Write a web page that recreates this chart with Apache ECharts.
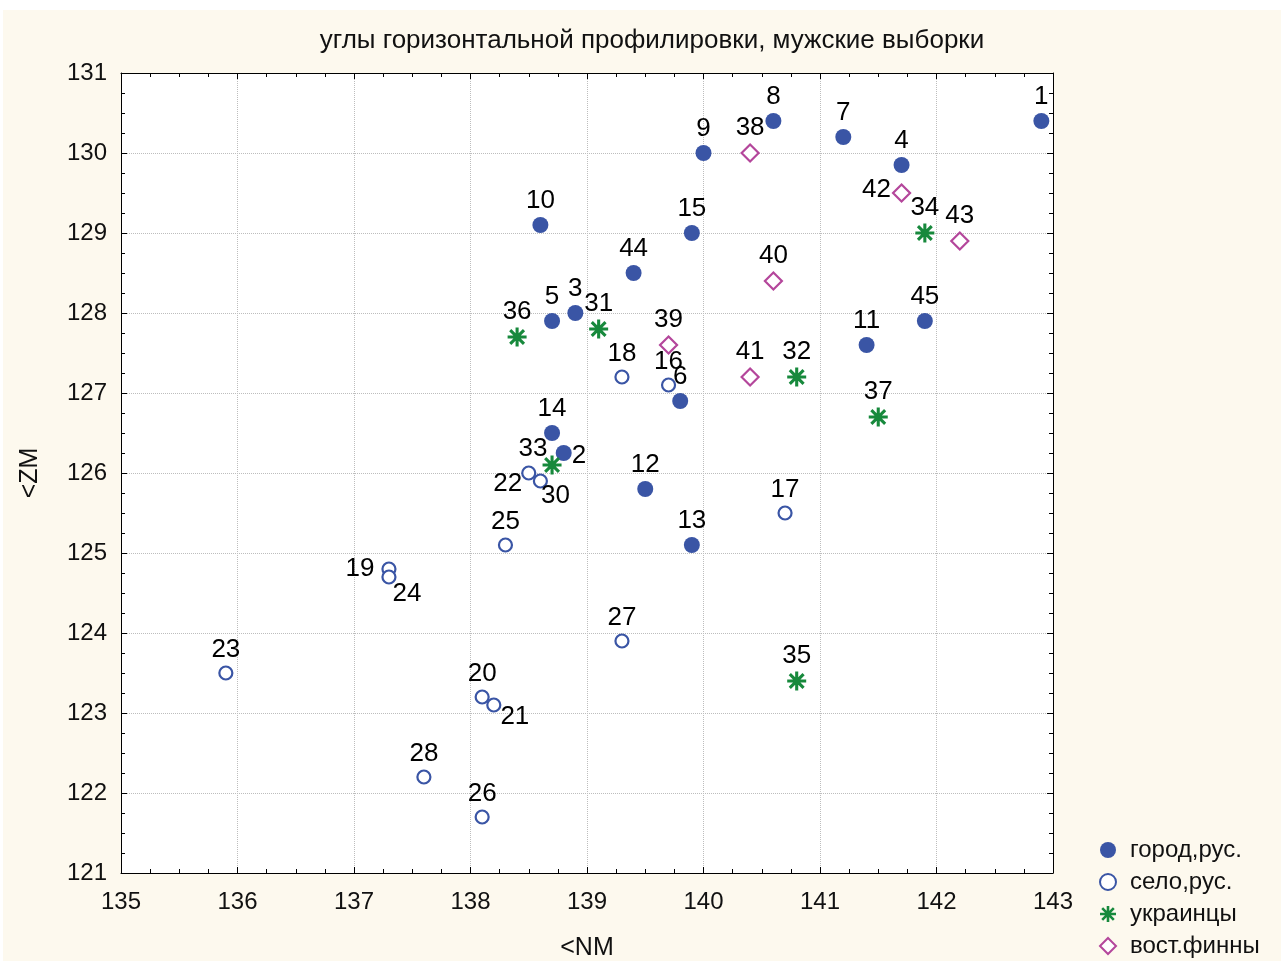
<!DOCTYPE html>
<html>
<head>
<meta charset="utf-8">
<script src="https://cdn.jsdelivr.net/npm/echarts@6/dist/echarts.min.js"></script>
<style>
  html, body { margin: 0; padding: 0; background: #fff; }
  #chart { position: absolute; left: 3px; top: 10px; width: 1278px; height: 951px; }
</style>
</head>
<body>
<div id="chart"></div>
<script>
// город, рус.
const cityIds = [1, 8, 7, 4, 9, 10, 15, 44, 5, 3, 45, 11, 6, 14, 2, 12, 13];
const cityNM  = [142.9, 140.6, 141.2, 141.7, 140.0, 138.6, 139.9, 139.4, 138.7, 138.9, 141.9, 141.4, 139.8, 138.7, 138.8, 139.5, 139.9];
const cityZM  = [130.4, 130.4, 130.2, 129.85, 130.0, 129.1, 129.0, 128.5, 127.9, 128.0, 127.9, 127.6, 126.9, 126.5, 126.25, 125.8, 125.1];

// село, рус.
const villageIds = [18, 16, 22, 30, 25, 17, 19, 24, 27, 23, 20, 21, 28, 26];
const villageNM  = [139.3, 139.7, 138.5, 138.6, 138.3, 140.7, 137.3, 137.3, 139.3, 135.9, 138.1, 138.2, 137.6, 138.1];
const villageZM  = [127.2, 127.1, 126.0, 125.9, 125.1, 125.5, 124.8, 124.7, 123.9, 123.5, 123.2, 123.1, 122.2, 121.7];

// украинцы
const ukrIds = [36, 31, 33, 32, 37, 34, 35];
const ukrNM  = [138.4, 139.1, 138.7, 140.8, 141.5, 141.9, 140.8];
const ukrZM  = [127.7, 127.8, 126.1, 127.2, 126.7, 129.0, 123.4];

// вост. финны
const finIds = [38, 42, 43, 40, 39, 41];
const finNM  = [140.4, 141.7, 142.2, 140.6, 139.7, 140.4];
const finZM  = [130.0, 129.5, 128.9, 128.4, 127.6, 127.2];

const seriesNames = ['город,рус.', 'село,рус.', 'украинцы', 'вост.финны'];

// labels not placed above the point: side + shift in px
const labelPlace = {
  2:  { position: 'right', dx: -3, dy: 3 },
  19: { position: 'left',  dx: -4, dy: 0 },
  24: { position: 'right', dx: -7, dy: 17 },
  21: { position: 'right', dx: -4, dy: 12 },
  30: { position: 'right', dx: -10, dy: 15 },
  22: { position: 'left',  dx: 4, dy: 11 },
  42: { position: 'left',  dx: 2, dy: -3 },
  33: { position: 'top',   dx: -19, dy: 9 }
};

const asterisk = 'path://M2,8.7L18,8.7L18,11.3L2,11.3Z' +
  'M11.3,2L11.3,18L8.7,18L8.7,2Z' +
  'M5.12,3.28L16.72,14.88L14.88,16.72L3.28,5.12Z' +
  'M16.72,5.12L5.12,16.72L3.28,14.88L14.88,3.28Z';

const textFont = "'Liberation Sans', Arial, sans-serif";

function makeData(ids, nm, zm) {
  return ids.map((id, i) => {
    const item = { value: [nm[i], zm[i]], name: String(id) };
    if (labelPlace[id]) item.label = { position: labelPlace[id].position };
    return item;
  });
}

function makeSeries(name, ids, nm, zm, symbol, size, itemStyle) {
  return {
    name: name,
    type: 'scatter',
    symbol: symbol,
    symbolSize: size,
    itemStyle: Object.assign({ opacity: 1 }, itemStyle),
    label: {
      show: true,
      position: 'top',
      distance: 3,
      formatter: '{b}',
      color: '#000',
      fontSize: 26,
      fontFamily: textFont
    },
    labelLayout: function (p) {
      const lp = labelPlace[p.text];
      return lp ? { dx: lp.dx, dy: lp.dy } : {};
    },
    emphasis: { disabled: true },
    data: makeData(ids, nm, zm)
  };
}

const chart = echarts.init(document.getElementById('chart'));

const baseAxis = {
  axisLine: { show: true, onZero: false, lineStyle: { color: '#000', width: 1 } },
  axisTick: { show: true, inside: true, length: 6, lineStyle: { color: '#000' } },
  minorTick: { show: true, splitNumber: 4, length: 4, lineStyle: { color: '#000' } }
};

chart.setOption({
  backgroundColor: '#fdf9ee',
  animation: false,
  title: {
    text: 'углы горизонтальной профилировки, мужские выборки',
    left: 644,
    top: 13,
    textAlign: 'center',
    textStyle: { fontFamily: textFont, fontSize: 26, fontWeight: 'normal', color: '#111' }
  },
  legend: {
    orient: 'vertical',
    left: 1091,
    top: 823,
    height: 130,
    itemWidth: 16,
    itemHeight: 16,
    itemGap: 8,
    textStyle: { fontFamily: textFont, fontSize: 24, color: '#111', padding: [0, 0, 0, 9] },
    data: seriesNames
  },
  grid: {
    left: 118, top: 63, width: 932, height: 800,
    outerBoundsMode: 'none',
    show: true, backgroundColor: '#fff', borderWidth: 0
  },
  xAxis: [
    Object.assign({}, baseAxis, {
      type: 'value', min: 135, max: 143, interval: 1,
      name: '<NM', nameLocation: 'middle', nameGap: 63,
      nameTextStyle: { fontFamily: textFont, fontSize: 25, color: '#111' },
      axisLabel: { fontFamily: textFont, fontSize: 24, color: '#111', margin: 17 },
      splitLine: { show: true, lineStyle: { color: '#bdbdbd', type: 'dotted', width: 1 } }
    }),
    Object.assign({}, baseAxis, {
      type: 'value', min: 135, max: 143, interval: 1, position: 'top',
      axisLabel: { show: false }, splitLine: { show: false }
    })
  ],
  yAxis: [
    Object.assign({}, baseAxis, {
      type: 'value', min: 121, max: 131, interval: 1,
      name: '<ZM', nameLocation: 'middle', nameGap: 78,
      nameTextStyle: { fontFamily: textFont, fontSize: 25, color: '#111' },
      axisLabel: { fontFamily: textFont, fontSize: 24, color: '#111', margin: 14 },
      splitLine: { show: true, lineStyle: { color: '#bdbdbd', type: 'dotted', width: 1 } }
    }),
    Object.assign({}, baseAxis, {
      type: 'value', min: 121, max: 131, interval: 1, position: 'right',
      axisLabel: { show: false }, splitLine: { show: false }
    })
  ],
  series: [
    makeSeries(seriesNames[0], cityIds, cityNM, cityZM, 'circle', 16,
      { color: '#3a55a5' }),
    makeSeries(seriesNames[1], villageIds, villageNM, villageZM, 'circle', 13,
      { color: '#fff', borderColor: '#3a55a5', borderWidth: 2.2 }),
    makeSeries(seriesNames[2], ukrIds, ukrNM, ukrZM, asterisk, 19,
      { color: '#17893c' }),
    makeSeries(seriesNames[3], finIds, finNM, finZM, 'diamond', 17,
      { color: '#fff', borderColor: '#b4469b', borderWidth: 2.2 })
  ]
});
</script>
</body>
</html>
